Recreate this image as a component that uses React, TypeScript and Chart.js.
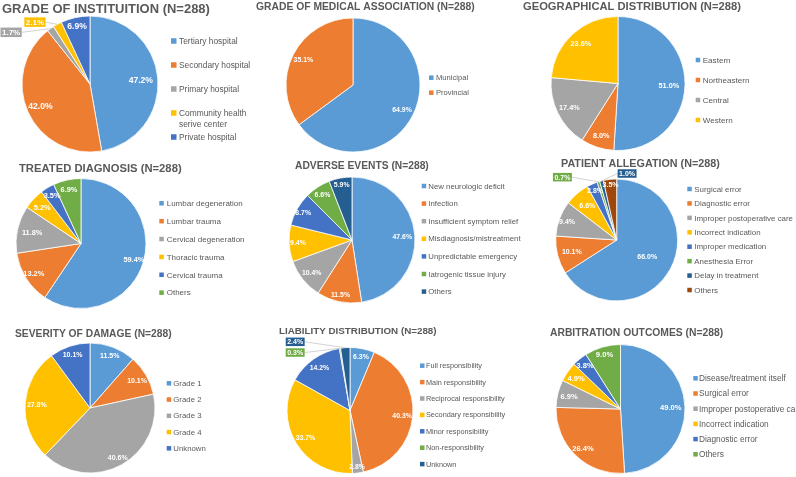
import React, { useEffect, useRef } from "react";
import { Chart, registerables } from "chart.js";

Chart.register(...registerables);

const FONT = "'Liberation Sans', Arial, Helvetica, sans-serif";
const TEXT_COLOR = "#595959";

// ---- Colours (Office palette) ----
const BLUE = "#5B9BD5";
const ORANGE = "#ED7D31";
const GRAY = "#A5A5A5";
const YELLOW = "#FFC000";
const DBLUE = "#4472C4";
const GREEN = "#70AD47";
const NAVY = "#255E91";
const BROWN = "#9E480E";

// ---- Data ----
const instLabels = ["Tertiary hospital", "Secondary hospital", "Primary hospital", "Community health\nserive center", "Private hospital"];
const instValues = [47.2, 42.0, 1.7, 2.1, 6.9];

const assocLabels = ["Municipal", "Provincial"];
const assocValues = [64.9, 35.1];

const geoLabels = ["Eastern", "Northeastern", "Central", "Western"];
const geoValues = [51.0, 8.0, 17.4, 23.6];

const diagLabels = ["Lumbar degeneration", "Lumbar trauma", "Cervical degeneration", "Thoracic trauma", "Cervical trauma", "Others"];
const diagValues = [59.4, 13.2, 11.8, 5.2, 3.5, 6.9];

const adverseLabels = ["New neurologic deficit", "Infection", "Insufficient symptom relief", "Misdiagnosis/mistreatment", "Unpredictable emergency", "Iatrogenic tissue injury", "Others"];
const adverseValues = [47.6, 11.5, 10.4, 9.4, 8.7, 6.6, 5.9];

const allegLabels = ["Surgical error", "Diagnostic error", "Improper postoperative care", "Incorrect indication", "Improper medication", "Anesthesia Error", "Delay in treatment", "Others"];
const allegValues = [66.0, 10.1, 9.4, 6.6, 2.8, 0.7, 1.0, 3.5];

const severityLabels = ["Grade 1", "Grade 2", "Grade 3", "Grade 4", "Unknown"];
const severityValues = [11.5, 10.1, 40.6, 27.8, 10.1];

const liabilityLabels = ["Full responsibility", "Main responsibility", "Reciprocal responsibility", "Secondary responsibility", "Minor responsibility", "Non-responsibility", "Unknown"];
const liabilityValues = [6.3, 40.3, 2.8, 33.7, 14.2, 0.3, 2.4];

const arbLabels = ["Disease/treatment itself", "Surgical error", "Improper postoperative care", "Incorrect indication", "Diagnostic error", "Others"];
const arbValues = [49.0, 26.4, 6.9, 4.9, 3.8, 9.0];

type Panel = {
  key: string;
  title: string;
  labels: string[];
  values: number[];
  colors: string[];
  // layout / style
  cx: number; cy: number; r: number;
  titleX: number; titleY: number; titleW: number;
  sqX: number; txtX: number; legY: number; legStep: number; legFont: number; sq: number; legLine?: number;
  lblFont: number;
  lblR: (number | null)[];
  callouts?: { [i: number]: [number, number] };
  calloutFont?: number;
};

const W = 796;
const H = 477;

const panels: Panel[] = [
  {
    key: "inst", title: "GRADE OF INSTITUITION (N=288)", labels: instLabels, values: instValues,
    colors: [BLUE, ORANGE, GRAY, YELLOW, DBLUE],
    cx: 90, cy: 84, r: 68,
    titleX: 2, titleY: 8.3, titleW: 208,
    sqX: 171, txtX: 179, legY: 41, legStep: 24, legFont: 8.4, sq: 5.5, legLine: 11,
    lblFont: 8.6, lblR: [0.75, 0.8, null, null, 0.88],
    callouts: { 2: [-1.16, -0.76], 3: [-0.81, -0.91] }, calloutFont: 8,
  },
  {
    key: "assoc", title: "GRADE OF MEDICAL ASSOCIATION (N=288)", labels: assocLabels, values: assocValues,
    colors: [BLUE, ORANGE],
    cx: 353, cy: 85, r: 67,
    titleX: 256, titleY: 6.7, titleW: 219,
    sqX: 429, txtX: 436, legY: 77.7, legStep: 15, legFont: 7.6, sq: 4.5,
    lblFont: 6.9, lblR: [0.82, 0.83],
  },
  {
    key: "geo", title: "GEOGRAPHICAL DISTRIBUTION (N=288)", labels: geoLabels, values: geoValues,
    colors: [BLUE, ORANGE, GRAY, YELLOW],
    cx: 618, cy: 83.5, r: 67,
    titleX: 523, titleY: 6, titleW: 218,
    sqX: 695.7, txtX: 702.7, legY: 60, legStep: 20, legFont: 8.1, sq: 4.5,
    lblFont: 7.3, lblR: [0.76, 0.81, 0.81, 0.82],
  },
  {
    key: "diag", title: "TREATED DIAGNOSIS (N=288)", labels: diagLabels, values: diagValues,
    colors: [BLUE, ORANGE, GRAY, YELLOW, DBLUE, GREEN],
    cx: 81, cy: 243.5, r: 65,
    titleX: 19, titleY: 168.3, titleW: 162.7,
    sqX: 159.3, txtX: 166.7, legY: 203.3, legStep: 17.87, legFont: 8.0, sq: 4.5,
    lblFont: 7.4, lblR: [0.85, 0.86, 0.77, 0.82, 0.86, 0.86],
  },
  {
    key: "adverse", title: "ADVERSE EVENTS (N=288)", labels: adverseLabels, values: adverseValues,
    colors: [BLUE, ORANGE, GRAY, YELLOW, DBLUE, GREEN, NAVY],
    cx: 352, cy: 240, r: 63,
    titleX: 295, titleY: 165.5, titleW: 134,
    sqX: 421.7, txtX: 428.3, legY: 186, legStep: 17.6, legFont: 7.8, sq: 4.5,
    lblFont: 6.9, lblR: [0.8, 0.89, 0.82, 0.86, 0.89, 0.86, 0.89],
  },
  {
    key: "alleg", title: "PATIENT ALLEGATION (N=288)", labels: allegLabels, values: allegValues,
    colors: [BLUE, ORANGE, GRAY, YELLOW, DBLUE, GREEN, NAVY, BROWN],
    cx: 616.7, cy: 240, r: 61,
    titleX: 561, titleY: 163.3, titleW: 159,
    sqX: 687.3, txtX: 694.3, legY: 189, legStep: 14.43, legFont: 7.9, sq: 4.5,
    lblFont: 7.0, lblR: [0.57, 0.76, 0.87, 0.74, 0.88, null, null, 0.92],
    callouts: { 5: [-0.89, -1.03], 6: [0.17, -1.09] }, calloutFont: 7,
  },
  {
    key: "severity", title: "SEVERITY OF DAMAGE (N=288)", labels: severityLabels, values: severityValues,
    colors: [BLUE, ORANGE, GRAY, YELLOW, DBLUE],
    cx: 90, cy: 408, r: 65,
    titleX: 15, titleY: 333, titleW: 156.7,
    sqX: 166.7, txtX: 173.3, legY: 383.3, legStep: 16.25, legFont: 7.8, sq: 4.5,
    lblFont: 7.0, lblR: [0.86, 0.84, 0.87, 0.82, 0.86],
  },
  {
    key: "liability", title: "LIABILITY DISTRIBUTION (N=288)", labels: liabilityLabels, values: liabilityValues,
    colors: [BLUE, ORANGE, GRAY, YELLOW, DBLUE, GREEN, NAVY],
    cx: 350, cy: 410.5, r: 63,
    titleX: 279, titleY: 330.3, titleW: 157.7,
    sqX: 420, txtX: 426, legY: 365.7, legStep: 16.4, legFont: 7.3, sq: 4.5,
    lblFont: 6.9, lblR: [0.88, 0.83, 0.9, 0.83, 0.84, null, null],
    callouts: { 5: [-0.87, -0.92], 6: [-0.87, -1.09] }, calloutFont: 7,
  },
  {
    key: "arb", title: "ARBITRATION OUTCOMES (N=288)", labels: arbLabels, values: arbValues,
    colors: [BLUE, ORANGE, GRAY, YELLOW, DBLUE, GREEN],
    cx: 620.5, cy: 409, r: 64.5,
    titleX: 550, titleY: 332.5, titleW: 173.3,
    sqX: 693.3, txtX: 699, legY: 378.3, legStep: 15.2, legFont: 8.3, sq: 4.5,
    lblFont: 7.6, lblR: [0.78, 0.84, 0.82, 0.84, 0.87, 0.89],
  },
];

const BORDER = 0.8;

function makeDecor(p: Panel) {
  return {
    id: "decor_" + p.key,
    afterDatasetsDraw(chart: any) {
      const ctx: CanvasRenderingContext2D = chart.ctx;
      const meta = chart.getDatasetMeta(0);
      ctx.save();
      // slice labels
      meta.data.forEach((arc: any, i: number) => {
        const { x, y, startAngle, endAngle, outerRadius } = arc.getProps(
          ["x", "y", "startAngle", "endAngle", "outerRadius"], true);
        const mid = (startAngle + endAngle) / 2;
        const text = Number(p.values[i]).toFixed(1) + "%";
        const co = p.callouts ? p.callouts[i] : undefined;
        if (co) {
          const fs = p.calloutFont || 7;
          ctx.font = `bold ${fs}px ${FONT}`;
          const tw = ctx.measureText(text).width;
          const bw = tw + 3;
          const bh = fs + 1.5;
          const bx = x + co[0] * outerRadius;
          const by = y + co[1] * outerRadius;
          const left = bx - bw / 2;
          const top = by - bh / 2;
          const px = x + Math.cos(mid) * outerRadius;
          const py = y + Math.sin(mid) * outerRadius;
          let sx: number, sy: number;
          if (px > left + bw) { sx = left + bw; sy = by; }
          else if (px < left) { sx = left; sy = by; }
          else { sx = px; sy = py < top ? top : top + bh; }
          ctx.strokeStyle = "#C8C8C8";
          ctx.lineWidth = 0.8;
          ctx.beginPath();
          ctx.moveTo(sx, sy);
          ctx.lineTo(px, py);
          ctx.stroke();
          ctx.fillStyle = p.colors[i];
          ctx.fillRect(left, top, bw, bh);
          ctx.fillStyle = "#FFFFFF";
          ctx.textAlign = "center";
          ctx.textBaseline = "alphabetic";
          ctx.fillText(text, bx, by + 0.36 * fs);
        } else {
          const f = p.lblR[i] ?? 0.8;
          const lx = x + Math.cos(mid) * outerRadius * f;
          const ly = y + Math.sin(mid) * outerRadius * f;
          ctx.font = `bold ${p.lblFont}px ${FONT}`;
          ctx.fillStyle = "#FFFFFF";
          ctx.textAlign = "center";
          ctx.textBaseline = "alphabetic";
          ctx.fillText(text, lx, ly + 0.36 * p.lblFont);
        }
      });

      // title (fit to measured width)
      ctx.font = `bold 10px ${FONT}`;
      const w10 = ctx.measureText(p.title).width;
      const tfs = (10 * p.titleW) / w10;
      ctx.font = `bold ${tfs}px ${FONT}`;
      ctx.fillStyle = TEXT_COLOR;
      ctx.textAlign = "left";
      ctx.textBaseline = "alphabetic";
      ctx.fillText(p.title, p.titleX, p.titleY + 0.358 * tfs);

      // legend
      ctx.font = `${p.legFont}px ${FONT}`;
      p.labels.forEach((lab, i) => {
        const yy = p.legY + i * p.legStep;
        ctx.fillStyle = p.colors[i];
        ctx.fillRect(p.sqX, yy - p.sq / 2, p.sq, p.sq);
        ctx.fillStyle = TEXT_COLOR;
        const lines = lab.split("\n");
        lines.forEach((ln, k) => {
          ctx.fillText(ln, p.txtX, yy + 0.34 * p.legFont + k * (p.legLine || p.legFont * 1.3));
        });
      });
      ctx.restore();
    },
  };
}

function PiePanel({ p }: { p: Panel }) {
  const ref = useRef<HTMLCanvasElement | null>(null);
  useEffect(() => {
    if (!ref.current) return;
    const half = p.r + BORDER / 2;
    const chart = new Chart(ref.current, {
      type: "pie",
      data: {
        labels: p.labels,
        datasets: [
          {
            data: p.values,
            backgroundColor: p.colors,
            borderColor: "#FFFFFF",
            borderWidth: BORDER,
          },
        ],
      },
      options: {
        responsive: false,
        animation: false,
        events: [],
        layout: {
          padding: {
            left: p.cx - half,
            top: p.cy - half,
            right: W - (p.cx + half),
            bottom: H - (p.cy + half),
          },
        },
        plugins: {
          legend: { display: false },
          tooltip: { enabled: false },
          title: { display: false },
        },
      },
      plugins: [makeDecor(p)],
    } as any);
    return () => chart.destroy();
  }, [p]);
  return (
    <canvas
      ref={ref}
      width={W}
      height={H}
      style={{ position: "absolute", left: 0, top: 0, width: W, height: H, pointerEvents: "none" }}
    />
  );
}

export default function App() {
  return (
    <div style={{ position: "fixed", left: 0, top: 0, width: W, height: H, background: "#FFFFFF", overflow: "hidden" }}>
      {panels.map((p) => (
        <PiePanel key={p.key} p={p} />
      ))}
    </div>
  );
}
